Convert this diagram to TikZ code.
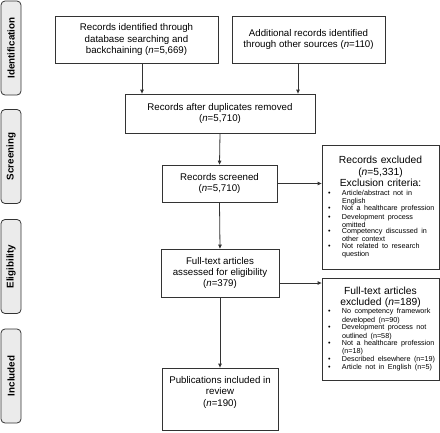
\documentclass[tikz,border=0pt]{standalone}
\usepackage{fontspec}
\setmainfont{Liberation Sans}
\usetikzlibrary{arrows.meta}
\definecolor{boxline}{rgb}{0.2,0.2,0.2}
\definecolor{sidefill}{rgb}{0.92,0.92,0.92}
\newcommand{\critem}[1]{\par\noindent\makebox[17pt][l]{\hspace{3pt}\textbullet}\parbox[t]{94pt}{\raggedright #1}}

\begin{document}
\begin{tikzpicture}[x=1pt,y=-1pt,
    box/.style={draw=boxline, line width=0.8pt, align=center, inner sep=2pt,
        font=\fontsize{9.7}{11.3}\selectfont},
    exbox/.style={draw=boxline, line width=0.8pt, inner sep=3pt, text width=111pt,
        minimum width=117pt, font=\fontsize{10.3}{11.6}\selectfont},
    side/.style={draw=boxline, line width=0.8pt, fill=sidefill, rounded corners=4pt,
        minimum width=94pt, minimum height=20pt, rotate=90,
        font=\bfseries\fontsize{9.8}{10}\selectfont},
    arr/.style={-{Triangle[length=4pt,width=3.5pt]}, line width=0.8pt, draw=boxline}]
    \useasboundingbox (0,0) rectangle (440,432);

    % 1. Phase labels on the left
    \node[side] (sideid) at (11,48) {Identification};
    \node[side] (sidescr) at (11,156.5) {Screening};
    \node[side] (sideel) at (11,266.5) {Eligibility};
    \node[side] (sideinc) at (11,376) {Included};

    % 2. Main flow
    \node[box, minimum width=163pt, minimum height=47pt] (idb) at (136.5,39.5)
        {Records identified through\\database searching and\\backchaining (\textit{n}=5,669)};
    \node[box, minimum width=153pt, minimum height=47pt] (ido) at (308.5,39.5)
        {Additional records identified\\through other sources (\textit{n}=110)};
    \node[box, minimum width=190pt, minimum height=39pt] (dup) at (220,113.5)
        {Records after duplicates removed\\(\textit{n}=5,710)};
    \node[box, minimum width=115pt, minimum height=37pt] (scr) at (219.5,183.5)
        {Records screened\\(\textit{n}=5,710)};
    \node[box, minimum width=118pt, minimum height=48pt] (elig) at (220,273)
        {Full-text articles\\assessed for eligibility\\(\textit{n}=379)};
    \node[box, minimum width=116pt, minimum height=62pt] (incl) at (220,399)
        {Publications included in\\review\\(\textit{n}=190)\\[4pt]};

    % 3. Exclusion boxes
    \node[exbox, minimum height=124pt] (exscr) at (380.5,207)
        {{\centering Records excluded\\(\textit{n}=5,331)\\Exclusion criteria:\par}
        \parindent=0pt\fontsize{7.2}{8.2}\selectfont
        \critem{Article/abstract not in\\English}
        \critem{Not a healthcare profession}
        \critem{Development process\\omitted}
        \critem{Competency discussed in\\other context}
        \critem{Not related to research\\question}\par};
    \node[exbox, minimum height=102pt] (exel) at (380.5,329)
        {{\centering Full-text articles\\excluded (\textit{n}=189)\par}
        \parindent=0pt\fontsize{7.2}{8.2}\selectfont
        \critem{No competency framework\\developed (n=90)}
        \critem{Development process not\\outlined (n=58)}
        \critem{Not a healthcare profession\\(n=18)}
        \critem{Described elsewhere (n=19)}
        \critem{Article not in English (n=5)}\par};

    % 4. Arrows
    \draw[arr] ([xshift=5.5pt]idb.south) -- ([xshift=5.5pt]idb.south |- dup.north);
    \draw[arr] ([xshift=-10.5pt]ido.south) -- ([xshift=-10.5pt]ido.south |- dup.north);
    \draw[arr] (dup.south) -- (scr.north);
    \draw[arr] (scr.east) -- (scr.east -| exscr.west);
    \draw[arr] (scr.south) -- (elig.north);
    \draw[arr] ([yshift=-10pt]elig.east) -- ([yshift=-10pt]elig.east -| exel.west);
    \draw[arr] (elig.south) -- (incl.north);
\end{tikzpicture}
\end{document}
